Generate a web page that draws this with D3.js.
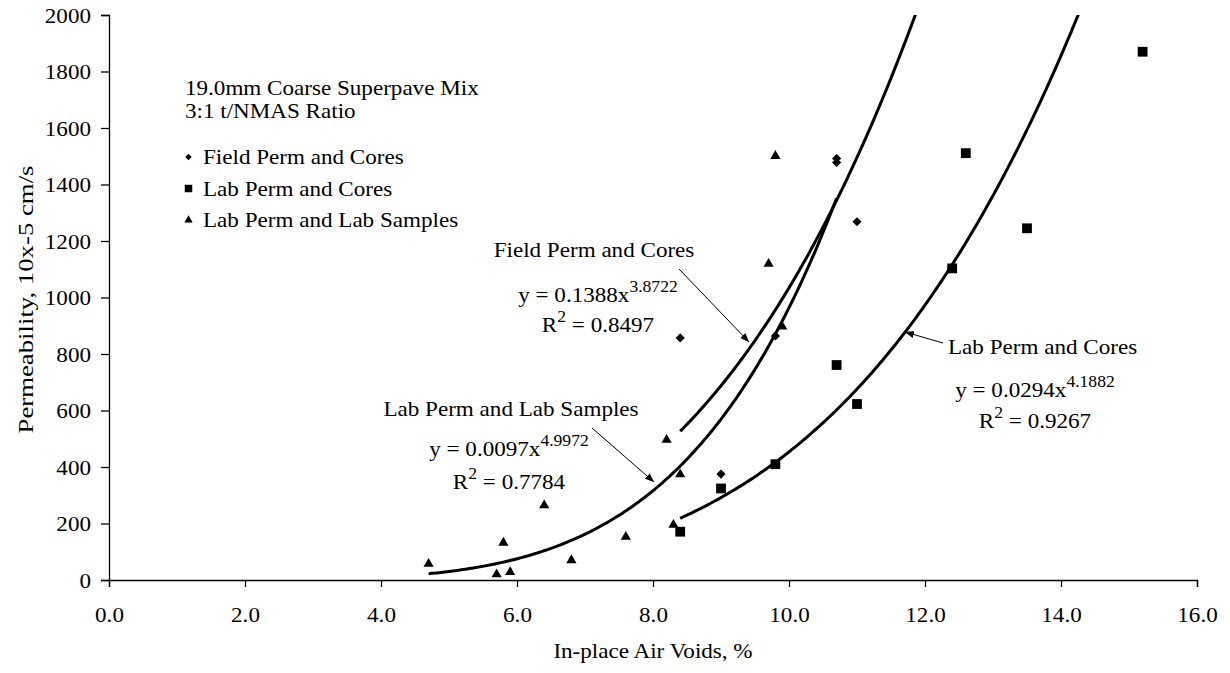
<!DOCTYPE html>
<html>
<head>
<meta charset="utf-8">
<script src="https://cdn.jsdelivr.net/npm/d3@7"></script>
<style>
  html, body { margin: 0; padding: 0; background: #fff; }
  svg { display: block; }
  text { font-family: "Liberation Serif", "Times New Roman", serif; fill: #000; }
</style>
</head>
<body>
<svg id="chart" width="1230" height="673"></svg>
<script>
// ---------------- DATA ----------------
const fieldX = [8.4, 9.0, 9.8, 10.7, 10.7, 11.0];
const fieldY = [857, 375, 864, 1478, 1492, 1268];

const labCoresX = [8.4, 9.0, 9.8, 10.7, 11.0, 12.4, 12.6, 13.5, 15.2];
const labCoresY = [171, 324, 410, 761, 623, 1103, 1511, 1245, 1870];

const labSamplesX = [4.7, 5.7, 5.9, 5.8, 6.4, 6.8, 7.6, 8.2, 8.4, 8.3, 9.7, 9.8, 9.9];
const labSamplesY = [57, 20, 28, 132, 264, 70, 153, 496, 374, 195, 1119, 1501, 897];

// power trendlines y = a * x^b, drawn over [from, to]
const trendNames = ["Field Perm and Cores", "Lab Perm and Cores", "Lab Perm and Lab Samples"];
const trendA = [0.1388, 0.0294, 0.0097];
const trendB = [3.8722, 4.1882, 4.9972];
const trendR2 = ["0.8497", "0.9267", "0.7784"];
const trendFrom = [8.4, 8.4, 4.7];
const trendTo = [12.5, 15.0, 10.7];

const xTicks = [0, 2, 4, 6, 8, 10, 12, 14, 16];
const yTicks = [0, 200, 400, 600, 800, 1000, 1200, 1400, 1600, 1800, 2000];

const legendTitle = ["19.0mm Coarse Superpave Mix", "3:1 t/NMAS Ratio"];
const seriesNames = ["Field Perm and Cores", "Lab Perm and Cores", "Lab Perm and Lab Samples"];
const xTitle = "In-place Air Voids, %";
const yTitle = "Permeability, 10x-5 cm/s";

// ---------------- LAYOUT ----------------
const svg = d3.select("#chart");
const pL = 109, pR = 1197, pT = 15, pB = 580;
const FS = 21;      // font size
const SX = 1.1;     // horizontal text stretch of the original
const SUP = 16;     // superscript size

const x = d3.scaleLinear().domain([0, 16]).range([pL, pR]);
const y = d3.scaleLinear().domain([0, 2000]).range([pB, pT]);

function addText(parent, tx, ty, str, anchor) {
  const t = parent.append("text")
    .attr("transform", `translate(${tx},${ty}) scale(${SX},1)`)
    .attr("text-anchor", anchor || "start")
    .style("font-size", FS + "px");
  if (str !== undefined) t.text(str);
  return t;
}

const defs = svg.append("defs");
defs.append("clipPath").attr("id", "plotclip")
  .append("rect").attr("x", pL).attr("y", pT).attr("width", pR - pL).attr("height", pB - pT);
defs.append("marker").attr("id", "arrow").attr("viewBox", "0 0 10 10")
  .attr("refX", 10).attr("refY", 5).attr("markerWidth", 9).attr("markerHeight", 9)
  .attr("markerUnits", "userSpaceOnUse").attr("orient", "auto")
  .append("path").attr("d", "M0,1 L10,5 L0,9 Z").attr("fill", "#000");

// axes
const xAxis = svg.append("g").attr("transform", `translate(0,${pB})`)
  .call(d3.axisBottom(x).tickValues(xTicks).tickFormat(d3.format(".1f")).tickSize(7));
const yAxis = svg.append("g").attr("transform", `translate(${pL},0)`)
  .call(d3.axisLeft(y).tickValues(yTicks).tickFormat(d3.format("d")).tickSize(8));
[xAxis, yAxis].forEach(g => {
  g.selectAll("path.domain").attr("stroke", "#000").attr("stroke-width", 1.3);
  g.selectAll(".tick line").attr("stroke", "#000").attr("stroke-width", 1.3);
  g.selectAll(".tick text").style("font-family", "Liberation Serif").style("font-size", FS + "px").attr("fill", "#000")
    .attr("x", null).attr("y", null).attr("dy", null);
});
xAxis.selectAll(".tick text").attr("text-anchor", "middle")
  .attr("transform", `translate(0,${622 - pB}) scale(${SX},1)`);
yAxis.selectAll(".tick text").attr("text-anchor", "end")
  .attr("transform", `translate(-18,7) scale(${SX},1)`);

addText(svg, (pL + pR) / 2, 658, xTitle, "middle");
svg.append("text").attr("transform", `translate(33,${(pT + pB) / 2 + 2}) rotate(-90)`)
  .attr("text-anchor", "middle").style("font-size", (FS + 1) + "px")
  .attr("textLength", 268).attr("lengthAdjust", "spacingAndGlyphs").text(yTitle);

// trendlines
const plot = svg.append("g").attr("clip-path", "url(#plotclip)");
const line = d3.line().x(d => x(d[0])).y(d => y(d[1])).curve(d3.curveLinear);
trendA.forEach((a, i) => {
  const n = 200;
  const pts = d3.range(n + 1).map(k => {
    const xv = trendFrom[i] + (trendTo[i] - trendFrom[i]) * k / n;
    return [xv, a * Math.pow(xv, trendB[i])];
  });
  plot.append("path").attr("d", line(pts)).attr("fill", "none")
    .attr("stroke", "#000").attr("stroke-width", 3);
});

// markers
const diamond = d3.symbol(d3.symbolSquare, 42);
const square = d3.symbol(d3.symbolSquare, 96);
const triangle = d3.symbol(d3.symbolTriangle, 45);

function drawSeries(xs, ys, sym, rot) {
  svg.append("g").selectAll("path").data(xs.map((v, i) => [v, ys[i]])).join("path")
    .attr("d", sym)
    .attr("transform", d => `translate(${x(d[0])},${y(d[1])}) rotate(${rot})`)
    .attr("fill", "#000");
}
drawSeries(fieldX, fieldY, diamond, 45);
drawSeries(labCoresX, labCoresY, square, 0);
drawSeries(labSamplesX, labSamplesY, triangle, 0);

// legend
const lg = svg.append("g");
legendTitle.forEach((t, i) => addText(lg, 185, 95 + i * 23, t));
const legSyms = [d3.symbol(d3.symbolSquare, 20), d3.symbol(d3.symbolSquare, 56), d3.symbol(d3.symbolTriangle, 30)];
const legRot = [45, 0, 0];
seriesNames.forEach((t, i) => {
  const by = 164 + i * 31.5;
  lg.append("path").attr("d", legSyms[i]).attr("transform", `translate(188.5,${by - 7}) rotate(${legRot[i]})`).attr("fill", "#000");
  addText(lg, 203, by, t);
});

// annotations
const annLabelPos = [[594, 257], [948, 354], [511, 416]];
const annLabelAnchor = ["middle", "start", "middle"];
const annEqPos = [[598, 302, 332], [1035, 397, 428], [509, 456, 489]];
const annArrow = [[679, 269, 749, 342], [943, 343, 905, 332], [592, 428, 654, 482]];

trendNames.forEach((name, i) => {
  addText(svg, annLabelPos[i][0], annLabelPos[i][1], name, annLabelAnchor[i]);
  const eq = addText(svg, annEqPos[i][0], annEqPos[i][1], undefined, "middle");
  eq.append("tspan").text(`y = ${trendA[i].toFixed(4)}x`);
  eq.append("tspan").attr("dy", -10).style("font-size", SUP + "px").text(trendB[i].toFixed(4));
  const r2 = addText(svg, annEqPos[i][0], annEqPos[i][2], undefined, "middle");
  r2.append("tspan").text("R");
  r2.append("tspan").attr("dy", -10).style("font-size", SUP + "px").text("2");
  r2.append("tspan").attr("dy", 10).text(` = ${trendR2[i]}`);
  const a = annArrow[i];
  svg.append("line").attr("x1", a[0]).attr("y1", a[1]).attr("x2", a[2]).attr("y2", a[3])
    .attr("stroke", "#000").attr("stroke-width", 1).attr("marker-end", "url(#arrow)");
});
</script>
</body>
</html>
